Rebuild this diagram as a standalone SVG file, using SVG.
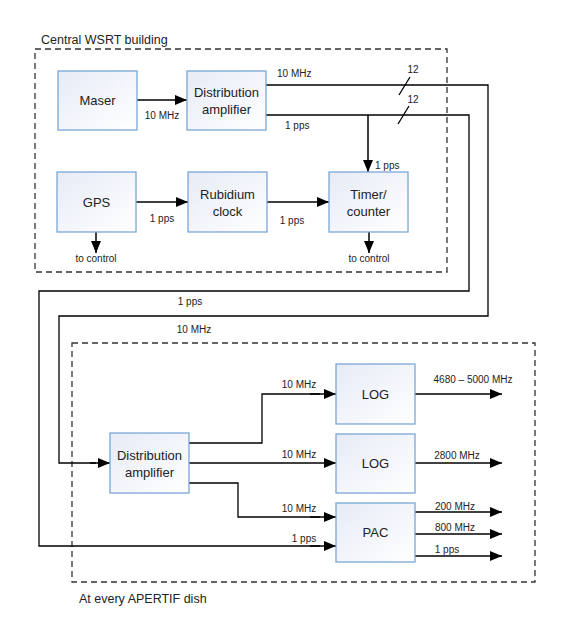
<svg xmlns="http://www.w3.org/2000/svg" width="582" height="636" viewBox="0 0 582 636">
<defs>
<linearGradient id="bf" x1="0" y1="0" x2="1" y2="1">
<stop offset="0" stop-color="#e6ebf6"/>
<stop offset="1" stop-color="#ffffff"/>
</linearGradient>
<marker id="ah" viewBox="0 0 12 10" refX="12" refY="5" markerWidth="12" markerHeight="10" markerUnits="userSpaceOnUse" orient="auto">
<path d="M0,0 L12,5 L0,10 Z" fill="#000"/>
</marker>
<style>
.box{fill:url(#bf);stroke:#7aa7d6;stroke-width:1.3}
.t{font-family:"Liberation Sans",Arial,sans-serif;font-size:13px;fill:#222;text-anchor:middle}
.s{font-family:"Liberation Sans",Arial,sans-serif;font-size:10px;fill:#222}
.g{font-family:"Liberation Sans",Arial,sans-serif;font-size:12.5px;fill:#222}
.dash{fill:none;stroke:#333;stroke-width:1.3;stroke-dasharray:6,4}
.c{fill:none;stroke:#000;stroke-width:1.3}
.a{fill:none;stroke:#000;stroke-width:1.5;marker-end:url(#ah)}
</style>
</defs>
<rect width="582" height="636" fill="#fff"/>
<g id="groups">
<rect class="dash" x="35" y="49" width="412" height="223"/>
<text class="g" x="41" y="44">Central WSRT building</text>
<rect class="dash" x="72" y="343" width="463" height="239"/>
<text class="g" x="79" y="603">At every APERTIF dish</text>
</g>
<g id="connectors">
<line class="a" x1="137" y1="100" x2="187" y2="100"/>
<text class="s" x="162" y="119" text-anchor="middle">10 MHz</text>
<line class="a" x1="136" y1="202" x2="188" y2="202"/>
<text class="s" x="162" y="222" text-anchor="middle">1 pps</text>
<line class="a" x1="267" y1="202" x2="329" y2="202"/>
<text class="s" x="292" y="224" text-anchor="middle">1 pps</text>
<line class="a" x1="96" y1="232" x2="96" y2="253"/>
<text class="s" x="96" y="262" text-anchor="middle">to control</text>
<line class="a" x1="369" y1="232" x2="369" y2="253"/>
<text class="s" x="369" y="262" text-anchor="middle">to control</text>
<polyline class="c" points="266,85 488,85 488,316 59,316 59,463 96,463"/>
<line class="a" x1="90" y1="463" x2="110" y2="463"/>
<polyline class="c" points="266,115 469,115 469,291 39,291 39,546 320,546"/>
<line class="a" x1="310" y1="546" x2="336" y2="546"/>
<text class="s" x="277" y="77">10 MHz</text>
<text class="s" x="285" y="129">1 pps</text>
<line class="a" x1="368" y1="115" x2="368" y2="172"/>
<text class="s" x="375" y="169">1 pps</text>
<line class="c" x1="399" y1="95" x2="410" y2="77"/>
<text class="s" x="413" y="73" text-anchor="middle">12</text>
<line class="c" x1="398" y1="124" x2="409" y2="106"/>
<text class="s" x="413" y="103" text-anchor="middle">12</text>
<text class="s" x="190" y="305" text-anchor="middle">1 pps</text>
<text class="s" x="194" y="333" text-anchor="middle">10 MHz</text>
<polyline class="c" points="189,443 262,443 262,394 320,394"/>
<line class="a" x1="310" y1="394" x2="336" y2="394"/>
<text class="s" x="299" y="388" text-anchor="middle">10 MHz</text>
<line class="a" x1="189" y1="463" x2="336" y2="463"/>
<text class="s" x="299" y="458" text-anchor="middle">10 MHz</text>
<polyline class="c" points="189,483 238,483 238,517 320,517"/>
<line class="a" x1="310" y1="517" x2="336" y2="517"/>
<text class="s" x="299" y="512" text-anchor="middle">10 MHz</text>
<text class="s" x="304" y="542" text-anchor="middle">1 pps</text>
<line class="a" x1="415" y1="394" x2="502" y2="394"/>
<text class="s" x="473" y="383" text-anchor="middle">4680 – 5000 MHz</text>
<line class="a" x1="415" y1="463" x2="502" y2="463"/>
<text class="s" x="457" y="459" text-anchor="middle">2800 MHz</text>
<line class="a" x1="415" y1="512" x2="502" y2="512"/>
<text class="s" x="455" y="510" text-anchor="middle">200 MHz</text>
<line class="a" x1="415" y1="534" x2="502" y2="534"/>
<text class="s" x="455" y="531" text-anchor="middle">800 MHz</text>
<line class="a" x1="415" y1="556" x2="502" y2="556"/>
<text class="s" x="447" y="553" text-anchor="middle">1 pps</text>
</g>
<g id="maser"><rect class="box" x="58" y="71" width="79" height="59"/><text class="t" x="97.5" y="105">Maser</text></g>
<g id="dist1"><rect class="box" x="187" y="71" width="79" height="59"/><text class="t" x="226.5" y="97">Distribution</text><text class="t" x="226.5" y="114">amplifier</text></g>
<g id="gps"><rect class="box" x="57" y="172" width="79" height="60"/><text class="t" x="96.5" y="207">GPS</text></g>
<g id="rubidium"><rect class="box" x="188" y="172" width="79" height="60"/><text class="t" x="227.5" y="199">Rubidium</text><text class="t" x="227.5" y="216">clock</text></g>
<g id="timer"><rect class="box" x="329" y="172" width="79" height="60"/><text class="t" x="368.5" y="199">Timer/</text><text class="t" x="368.5" y="216">counter</text></g>
<g id="dist2"><rect class="box" x="110" y="433" width="79" height="60"/><text class="t" x="149.5" y="460">Distribution</text><text class="t" x="149.5" y="477">amplifier</text></g>
<g id="log1"><rect class="box" x="336" y="364" width="79" height="60"/><text class="t" x="375.5" y="399">LOG</text></g>
<g id="log2"><rect class="box" x="336" y="434" width="79" height="59"/><text class="t" x="375.5" y="468">LOG</text></g>
<g id="pac"><rect class="box" x="336" y="503" width="79" height="59"/><text class="t" x="375.5" y="537">PAC</text></g>
</svg>
